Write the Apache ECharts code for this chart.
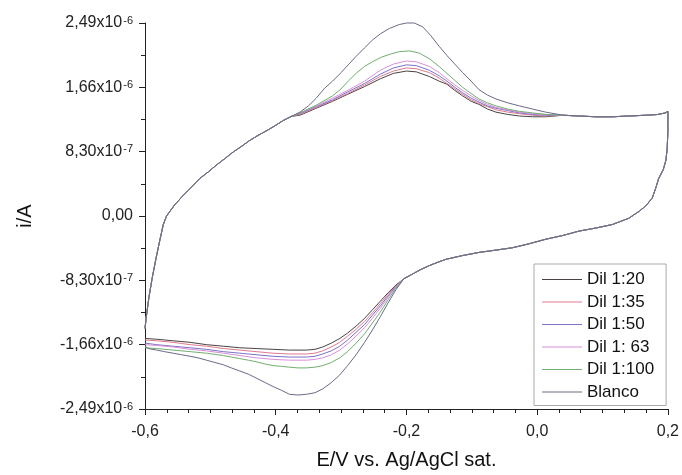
<!DOCTYPE html>
<html>
<head>
<meta charset="utf-8">
<script src="https://cdn.jsdelivr.net/npm/echarts@6/dist/echarts.min.js"></script>
<style>html,body{margin:0;padding:0;background:#fff;}#c{width:682px;height:475px;}</style>
</head>
<body>
<div id="c"></div>
<script>
// Current values in units of 1e-6 A, potentials in V
var seriesNames = ['Dil 1:20', 'Dil 1:35', 'Dil 1:50', 'Dil 1: 63', 'Dil 1:100', 'Blanco'];
var seriesColors = ['#4a4242', '#e07a90', '#7a72c8', '#d890d8', '#70b070', '#6a6a88'];

var xTickLabels = ['-0,6', '-0,4', '-0,2', '0,0', '0,2'];
var yTickMain = ['-2,49x10', '-1,66x10', '-8,30x10', '0,00', '8,30x10', '1,66x10', '2,49x10'];
var yTickExp = ['-6', '-6', '-7', '', '-7', '-6', '-6'];

var forwardStart = [[-0.600,-1.45],[-0.598,-1.30],[-0.594,-1.05],[-0.589,-0.80],[-0.583,-0.54],[-0.577,-0.30],[-0.572,-0.11],[-0.567,0.00],[-0.555,0.14],[-0.541,0.27],[-0.528,0.38],[-0.516,0.485],[-0.503,0.57],[-0.491,0.655],[-0.478,0.74],[-0.465,0.826],[-0.452,0.90],[-0.440,0.974],[-0.427,1.04],[-0.414,1.10],[-0.401,1.165],[-0.389,1.23],[-0.376,1.285]];

var upperEnd = [[0.040,1.30],[0.064,1.29],[0.090,1.28],[0.115,1.28],[0.140,1.29],[0.166,1.30],[0.185,1.31],[0.196,1.33],[0.200,1.35]];

var reverseShared = [[0.200,1.10],[0.199,0.88],[0.197,0.72],[0.193,0.60],[0.186,0.485],[0.181,0.35],[0.176,0.23],[0.166,0.13],[0.156,0.06],[0.140,-0.03],[0.115,-0.11],[0.090,-0.155],[0.064,-0.195],[0.040,-0.25],[0.013,-0.30],[-0.013,-0.36],[-0.038,-0.41],[-0.063,-0.44],[-0.089,-0.47],[-0.114,-0.51],[-0.140,-0.56],[-0.153,-0.60],[-0.165,-0.64],[-0.178,-0.69],[-0.191,-0.75],[-0.204,-0.81]];

var peakDil20 = [[-0.363,1.30],[-0.338,1.39],[-0.313,1.48],[-0.290,1.57],[-0.264,1.67],[-0.240,1.77],[-0.220,1.84],[-0.200,1.87],[-0.185,1.86],[-0.165,1.80],[-0.150,1.74],[-0.138,1.70],[-0.126,1.62],[-0.114,1.55],[-0.101,1.48],[-0.089,1.44],[-0.076,1.38],[-0.063,1.34],[-0.045,1.31],[-0.027,1.29],[-0.007,1.28],[0.013,1.28]];
var peakDil35 = [[-0.363,1.31],[-0.338,1.40],[-0.313,1.49],[-0.290,1.58],[-0.264,1.69],[-0.240,1.80],[-0.220,1.87],[-0.200,1.91],[-0.185,1.90],[-0.165,1.85],[-0.150,1.78],[-0.138,1.71],[-0.126,1.64],[-0.114,1.57],[-0.101,1.50],[-0.089,1.45],[-0.076,1.41],[-0.063,1.37],[-0.045,1.34],[-0.027,1.32],[-0.007,1.30],[0.013,1.29]];
var peakDil50 = [[-0.363,1.32],[-0.338,1.41],[-0.313,1.50],[-0.290,1.60],[-0.264,1.71],[-0.240,1.83],[-0.220,1.91],[-0.200,1.95],[-0.185,1.94],[-0.165,1.88],[-0.150,1.81],[-0.138,1.74],[-0.126,1.66],[-0.114,1.59],[-0.101,1.52],[-0.089,1.47],[-0.076,1.42],[-0.063,1.39],[-0.045,1.36],[-0.027,1.33],[-0.007,1.31],[0.013,1.30]];
var peakDil63 = [[-0.363,1.33],[-0.338,1.42],[-0.313,1.52],[-0.290,1.62],[-0.264,1.74],[-0.240,1.88],[-0.220,1.96],[-0.200,2.00],[-0.185,1.99],[-0.165,1.93],[-0.150,1.85],[-0.138,1.77],[-0.126,1.69],[-0.114,1.62],[-0.101,1.55],[-0.089,1.49],[-0.076,1.44],[-0.063,1.40],[-0.045,1.37],[-0.027,1.34],[-0.007,1.32],[0.013,1.31]];
var peakDil100 = [[-0.363,1.33],[-0.338,1.43],[-0.313,1.55],[-0.300,1.64],[-0.288,1.75],[-0.277,1.84],[-0.264,1.93],[-0.252,1.99],[-0.238,2.05],[-0.224,2.09],[-0.211,2.12],[-0.195,2.13],[-0.180,2.10],[-0.165,2.03],[-0.150,1.93],[-0.138,1.84],[-0.126,1.75],[-0.114,1.66],[-0.101,1.58],[-0.089,1.51],[-0.076,1.46],[-0.063,1.42],[-0.045,1.38],[-0.027,1.35],[-0.007,1.33],[0.013,1.31]];
var peakBlanco = [[-0.363,1.34],[-0.350,1.42],[-0.338,1.52],[-0.325,1.65],[-0.313,1.74],[-0.300,1.85],[-0.288,1.96],[-0.277,2.06],[-0.264,2.17],[-0.252,2.27],[-0.240,2.35],[-0.226,2.42],[-0.211,2.47],[-0.200,2.49],[-0.188,2.49],[-0.175,2.44],[-0.163,2.33],[-0.150,2.19],[-0.138,2.07],[-0.126,1.96],[-0.114,1.85],[-0.101,1.74],[-0.089,1.63],[-0.076,1.56],[-0.063,1.51],[-0.045,1.46],[-0.027,1.42],[-0.007,1.38],[0.013,1.34]];

var troughDil20 = [[-0.216,-0.89],[-0.228,-0.99],[-0.240,-1.10],[-0.252,-1.21],[-0.264,-1.32],[-0.277,-1.42],[-0.290,-1.51],[-0.302,-1.58],[-0.315,-1.64],[-0.328,-1.69],[-0.340,-1.72],[-0.353,-1.73],[-0.379,-1.73],[-0.404,-1.72],[-0.430,-1.71],[-0.455,-1.70],[-0.480,-1.68],[-0.506,-1.66],[-0.531,-1.63],[-0.557,-1.61],[-0.582,-1.59],[-0.600,-1.58]];
var troughDil35 = [[-0.216,-0.90],[-0.228,-1.01],[-0.240,-1.13],[-0.252,-1.25],[-0.264,-1.36],[-0.277,-1.46],[-0.290,-1.55],[-0.302,-1.63],[-0.315,-1.69],[-0.328,-1.74],[-0.340,-1.77],[-0.353,-1.78],[-0.379,-1.78],[-0.404,-1.77],[-0.430,-1.75],[-0.455,-1.73],[-0.480,-1.71],[-0.506,-1.68],[-0.531,-1.66],[-0.557,-1.63],[-0.582,-1.61],[-0.600,-1.60]];
var troughDil50 = [[-0.216,-0.91],[-0.228,-1.03],[-0.240,-1.16],[-0.252,-1.28],[-0.264,-1.40],[-0.277,-1.50],[-0.290,-1.60],[-0.302,-1.68],[-0.315,-1.74],[-0.328,-1.78],[-0.340,-1.81],[-0.353,-1.82],[-0.379,-1.82],[-0.404,-1.81],[-0.430,-1.79],[-0.455,-1.77],[-0.480,-1.75],[-0.506,-1.72],[-0.531,-1.70],[-0.557,-1.68],[-0.582,-1.66],[-0.600,-1.64]];
var troughDil63 = [[-0.216,-0.92],[-0.228,-1.05],[-0.240,-1.19],[-0.252,-1.32],[-0.264,-1.44],[-0.277,-1.55],[-0.290,-1.65],[-0.302,-1.73],[-0.315,-1.79],[-0.328,-1.83],[-0.340,-1.85],[-0.353,-1.86],[-0.379,-1.86],[-0.404,-1.85],[-0.430,-1.83],[-0.455,-1.80],[-0.480,-1.77],[-0.506,-1.74],[-0.531,-1.72],[-0.557,-1.69],[-0.582,-1.67],[-0.600,-1.66]];
var troughDil100 = [[-0.216,-0.93],[-0.228,-1.08],[-0.240,-1.24],[-0.252,-1.38],[-0.264,-1.52],[-0.277,-1.64],[-0.290,-1.75],[-0.302,-1.83],[-0.315,-1.89],[-0.328,-1.93],[-0.340,-1.95],[-0.353,-1.96],[-0.366,-1.96],[-0.379,-1.95],[-0.391,-1.94],[-0.404,-1.93],[-0.416,-1.91],[-0.430,-1.88],[-0.442,-1.86],[-0.455,-1.84],[-0.468,-1.82],[-0.480,-1.80],[-0.506,-1.77],[-0.531,-1.75],[-0.557,-1.73],[-0.582,-1.71],[-0.600,-1.70]];
var troughBlanco = [[-0.216,-0.95],[-0.228,-1.12],[-0.240,-1.30],[-0.252,-1.47],[-0.264,-1.63],[-0.277,-1.79],[-0.290,-1.93],[-0.302,-2.05],[-0.315,-2.15],[-0.328,-2.23],[-0.340,-2.28],[-0.353,-2.30],[-0.366,-2.31],[-0.379,-2.30],[-0.391,-2.25],[-0.404,-2.20],[-0.416,-2.15],[-0.430,-2.09],[-0.442,-2.04],[-0.455,-2.00],[-0.468,-1.96],[-0.480,-1.92],[-0.493,-1.89],[-0.506,-1.86],[-0.519,-1.83],[-0.531,-1.81],[-0.544,-1.79],[-0.557,-1.77],[-0.570,-1.75],[-0.582,-1.73],[-0.595,-1.71],[-0.600,-1.68]];

var peaks = [peakDil20, peakDil35, peakDil50, peakDil63, peakDil100, peakBlanco];
var troughs = [troughDil20, troughDil35, troughDil50, troughDil63, troughDil100, troughBlanco];

var FONT = '"Liberation Sans", Arial, sans-serif';
var yMin = -2.49, yInterval = 0.83;

var series = seriesNames.map(function (name, k) {
  return {
    name: name,
    type: 'line',
    showSymbol: false,
    symbol: 'none',
    animation: false,
    clip: false,
    lineStyle: { color: seriesColors[k], width: 1 },
    itemStyle: { color: seriesColors[k] },
    data: [].concat(forwardStart, peaks[k], upperEnd, reverseShared, troughs[k])
  };
});

var chart = echarts.init(document.getElementById('c'), null, { renderer: 'canvas' });
chart.setOption({
  animation: false,
  backgroundColor: '#ffffff',
  grid: { left: 145, right: 13, top: 23, bottom: 61, containLabel: false },
  xAxis: {
    type: 'value', min: -0.6, max: 0.2, interval: 0.2,
    name: 'E/V vs. Ag/AgCl sat.', nameLocation: 'middle', nameGap: 41,
    nameTextStyle: { fontFamily: FONT, fontSize: 20, color: '#111' },
    axisLine: { show: true, onZero: false, lineStyle: { color: '#222', width: 1 } },
    axisTick: { show: true, inside: false, length: 6, lineStyle: { color: '#222' } },
    minorTick: { show: true, splitNumber: 6, length: 4, lineStyle: { color: '#222' } },
    splitLine: { show: false },
    axisLabel: {
      fontFamily: FONT, fontSize: 16, color: '#222', margin: 15,
      formatter: function (v) { return xTickLabels[Math.round((v + 0.6) / 0.2)]; }
    }
  },
  yAxis: {
    type: 'value', min: yMin, max: 2.49, interval: yInterval,
    name: 'i/A', nameLocation: 'middle', nameGap: 110, nameRotate: 90,
    nameTextStyle: { fontFamily: FONT, fontSize: 20, color: '#111' },
    axisLine: { show: true, onZero: false, lineStyle: { color: '#222', width: 1 } },
    axisTick: { show: true, inside: false, length: 6, lineStyle: { color: '#222' } },
    minorTick: { show: true, splitNumber: 2, length: 4, lineStyle: { color: '#222' } },
    splitLine: { show: false },
    axisLabel: {
      margin: 12,
      formatter: function (v) {
        var idx = Math.round((v - yMin) / yInterval);
        var e = yTickExp[idx];
        return e ? '{m|' + yTickMain[idx] + '}{s|' + e + '}' : '{m|' + yTickMain[idx] + '}';
      },
      rich: {
        m: { fontFamily: FONT, fontSize: 16, color: '#222', lineHeight: 16, verticalAlign: 'middle' },
        s: { fontFamily: FONT, fontSize: 11, color: '#222', lineHeight: 7, verticalAlign: 'top', padding: [0, 0, 0, 1] }
      }
    }
  },
  legend: {
    show: true, orient: 'vertical', left: 534, top: 264,
    icon: 'rect', itemWidth: 40, itemHeight: 1, itemGap: 3.5,
    padding: [6, 12, 4, 8],
    borderColor: '#aaa', borderWidth: 1, borderRadius: 0,
    backgroundColor: '#fff',
    textStyle: { fontFamily: FONT, fontSize: 17, color: '#111', lineHeight: 19 },
    data: seriesNames
  },
  series: series
});
</script>
</body>
</html>
